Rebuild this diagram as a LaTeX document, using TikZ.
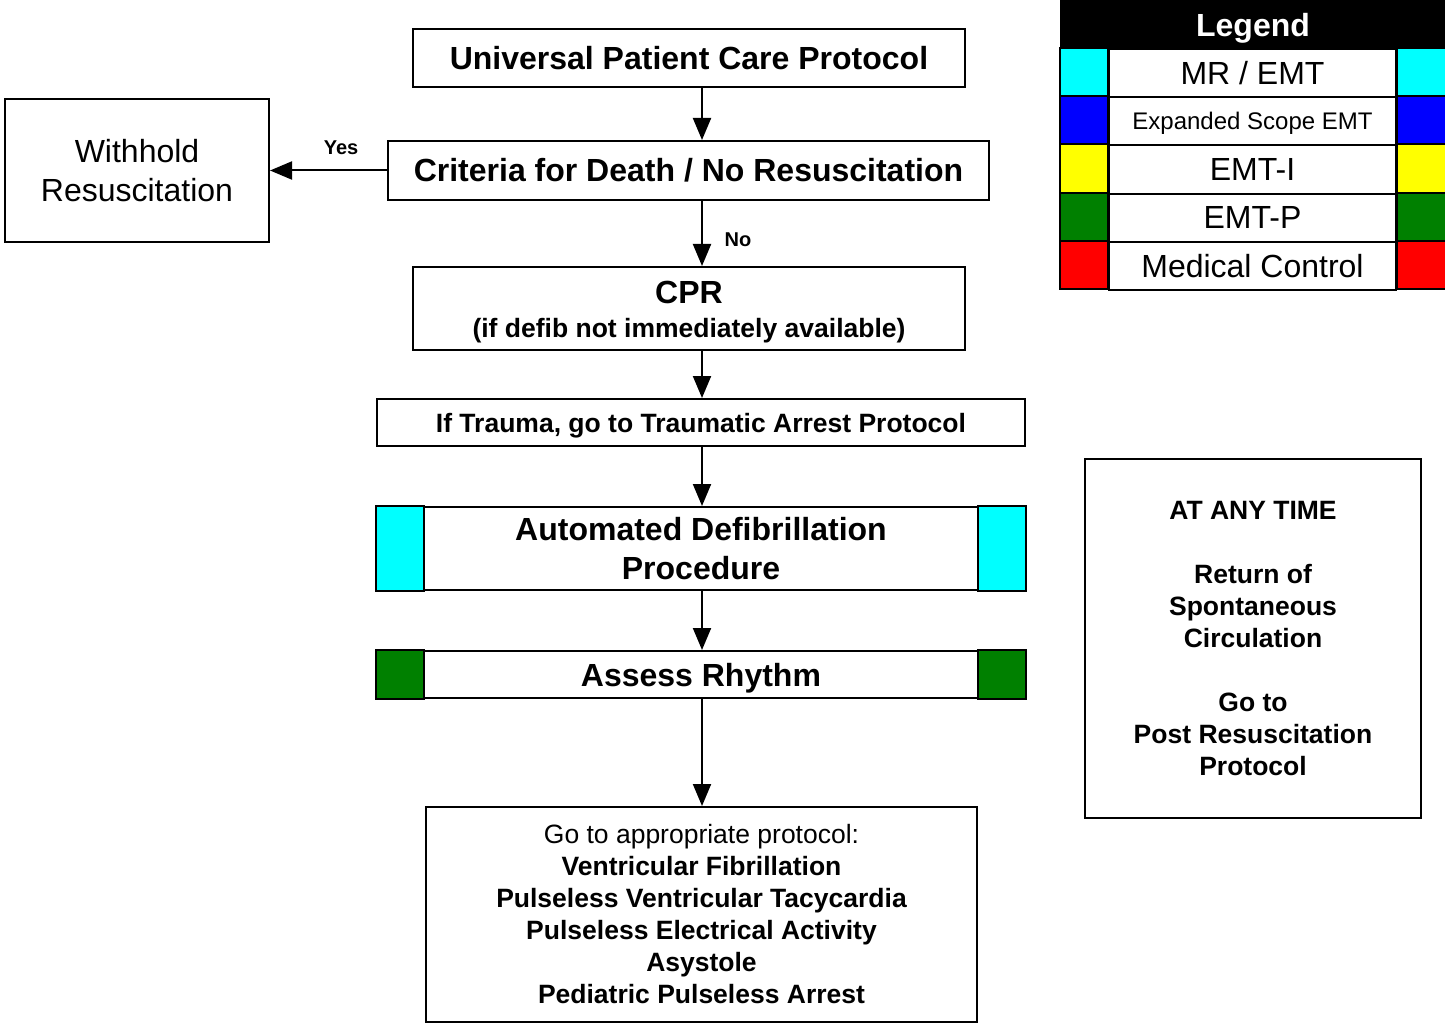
\documentclass[tikz,border=0pt]{standalone}
\usepackage{fontspec}
\setmainfont{Liberation Sans}
\usetikzlibrary{arrows.meta}
\definecolor{mremt}{RGB}{0,255,255}
\definecolor{exemt}{RGB}{0,0,255}
\definecolor{emti}{RGB}{255,255,0}
\definecolor{emtp}{RGB}{0,128,0}
\definecolor{medctl}{RGB}{255,0,0}

\begin{document}
\begin{tikzpicture}[x=1pt,y=-1pt,line width=2pt]
\tikzset{
  box/.style={draw,align=center,inner sep=0pt},
  big/.style={font=\fontsize{32}{38.4}\selectfont\bfseries},
  small/.style={font=\fontsize{26.5}{32}\selectfont\bfseries},
  lbl/.style={font=\fontsize{20}{24}\selectfont\bfseries},
  arr/.style={-{Triangle[length=22pt,width=18pt]}}
}
\newcommand\side[2]{
  \filldraw[fill=#2] (#1.north west) rectangle ([xshift=48pt]#1.south west);
  \filldraw[fill=#2] (#1.north east) rectangle ([xshift=-48pt]#1.south east);
}
\useasboundingbox (0,0) rectangle (1445,1024);
\coordinate (spine) at (702,0);

\node[box,big,minimum width=552pt,minimum height=58pt] (upc) at (689,58) {Universal Patient Care Protocol};
\node[box,big,minimum width=601pt,minimum height=59pt] (death) at (688.5,170.5) {Criteria for Death / No Resuscitation};
\node[box,font=\fontsize{32}{39}\selectfont,minimum width=264pt,minimum height=143pt] (withhold) at (137,170.5) {Withhold\\Resuscitation};
\node[box,minimum width=552pt,minimum height=83pt] (cpr) at (689,308.5) {};
\node[small,align=center,inner sep=0pt] (cprtext) at ([yshift=-4pt]cpr.center) {{\fontsize{32}{36}\selectfont CPR}\\[2pt](if defib not immediately available)};
\node[box,small,text depth=0pt,minimum width=648pt,minimum height=47pt] (trauma) at (701,422.5) {If Trauma, go to Traumatic Arrest Protocol};
\node[box,big,minimum width=648pt,minimum height=83pt] (aed) at (701,548.5) {Automated Defibrillation\\Procedure};
\side{aed}{mremt}
\node[box,big,text depth=0pt,minimum width=648pt,minimum height=47pt] (rhythm) at (701,674.5) {Assess Rhythm};
\side{rhythm}{emtp}
\node[box,small,minimum width=551pt,minimum height=215pt] (goto) at (701.5,914.5) {{\mdseries Go to appropriate protocol:}\\Ventricular Fibrillation\\Pulseless Ventricular Tacycardia\\Pulseless Electrical Activity\\Asystole\\Pediatric Pulseless Arrest};
\node[box,small,minimum width=336pt,minimum height=359pt] (anytime) at (1253,638.5) {AT ANY TIME\\[32pt]Return of\\Spontaneous\\Circulation\\[32pt]Go to\\Post Resuscitation\\Protocol};

% connectors
\draw[arr] (upc.south -| spine) -- (death.north -| spine);
\draw[arr] (death.west) -- (withhold.east);
\node[lbl] (yes) at (341,148) {Yes};
\draw[arr] (death.south -| spine) -- (cpr.north -| spine);
\node[lbl] (no) at (738,240) {No};
\draw[arr] (cpr.south -| spine) -- (trauma.north -| spine);
\draw[arr] (trauma.south -| spine) -- (aed.north -| spine);
\draw[arr] (aed.south -| spine) -- (rhythm.north -| spine);
\draw[arr] (rhythm.south -| spine) -- (goto.north -| spine);

% legend
\filldraw (1061,0) rectangle (1445,49);
\node[big,text=white,text depth=0pt] (legend) at (1253,24.5) {Legend};
\foreach \c/\t/\f [count=\i] in {mremt/{MR / EMT}/32, exemt/{Expanded Scope EMT}/24, emti/{EMT-I}/32, emtp/{EMT-P}/32, medctl/{Medical Control}/32} {
  \node[draw,inner sep=0pt,text depth=0pt,minimum width=287pt,minimum height=48.2pt,font=\fontsize{\f}{\f}\selectfont] (leg\i) at (1252.5,{49+48.2*(\i-1)+24.1}) {\t};
  \filldraw[fill=\c] (leg\i.north west) rectangle ++(-48,48.2);
  \filldraw[fill=\c] (leg\i.north east) rectangle ++(49,48.2);
}
\end{tikzpicture}
\end{document}
